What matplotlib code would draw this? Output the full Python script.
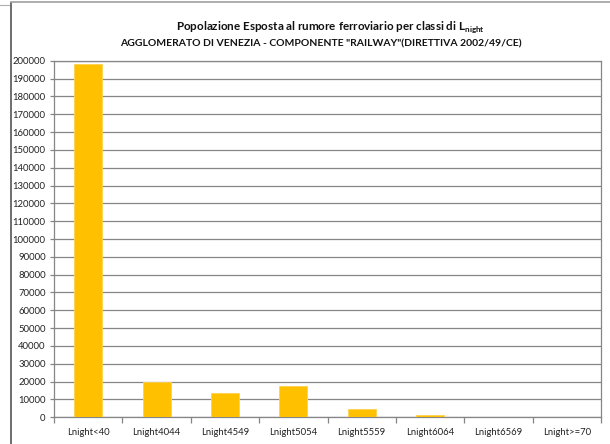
import matplotlib
matplotlib.use("Agg")
import matplotlib.pyplot as plt
from matplotlib.lines import Line2D
import numpy as np

plt.rcParams['font.family'] = ['Lato', 'DejaVu Sans']
plt.rcParams['mathtext.fontset'] = 'custom'
plt.rcParams['mathtext.rm'] = 'Lato'
plt.rcParams['mathtext.bf'] = 'Lato:bold'

# Exposed population by Lnight class
categories = ["Lnight<40", "Lnight4044", "Lnight4549", "Lnight5054",
              "Lnight5559", "Lnight6064", "Lnight6569", "Lnight>=70"]
population = [198000, 19800, 13600, 17700, 4800, 1300, 0, 0]
y_ticks = list(range(0, 200001, 10000))

title_line1 = r"Popolazione Esposta al rumore ferroviario per classi di L$_{\mathbf{night}}$"
title_line2 = 'AGGLOMERATO DI VENEZIA - COMPONENTE "RAILWAY"(DIRETTIVA 2002/49/CE)'

W, H = 610, 444
fig = plt.figure(figsize=(W / 100, H / 100), dpi=100)
ax = fig.add_axes([54 / W, (H - 417.3) / H, (601 - 54) / W, (417.3 - 60.7) / H])

grid_col = "#868686"
x = np.arange(len(categories))
ax.bar(x, population, width=0.41, color="#FFC000", edgecolor="#FFD24D",
       linewidth=0.6, zorder=3)

ax.set_xlim(-0.5, len(categories) - 0.5)
ax.set_ylim(0, 200000)
ax.set_yticks(y_ticks)
ax.set_yticklabels([str(v) for v in y_ticks], fontsize=6.8, color="#222222")
ax.yaxis.grid(True, color=grid_col, linewidth=0.9, zorder=0)
ax.set_axisbelow(True)

ax.set_xticks(x)
ax.set_xticklabels(categories, fontsize=6.8, color="#222222")
ax.set_xticks(np.arange(len(categories) + 1) - 0.5, minor=True)
ax.tick_params(axis='x', which='major', length=0, pad=8)
ax.tick_params(axis='x', which='minor', length=4.5, width=0.9, color=grid_col)
ax.tick_params(axis='y', length=3, width=0.9, color=grid_col, pad=3)

for side in ("left", "bottom", "right", "top"):
    ax.spines[side].set_color(grid_col)
    ax.spines[side].set_linewidth(0.9)

fig.text(330 / W, 1 - 27 / H, title_line1, ha="center", va="center",
         fontsize=8.4, fontweight="bold", color="#111111")
fig.text(321 / W, 1 - 43.5 / H, title_line2, ha="center", va="center",
         fontsize=7.5, fontweight="bold", color="#111111")

# outer chart frame
fig.add_artist(Line2D([10.5 / W, 10.5 / W], [0, 1 - 3 / H],
                      transform=fig.transFigure, color="#6e6e6e", linewidth=1.4))
fig.add_artist(Line2D([10.5 / W, 1], [1 - 2.5 / H, 1 - 2.5 / H],
                      transform=fig.transFigure, color="#a0a0a0", linewidth=1.2))
fig.add_artist(Line2D([0, 9 / W], [1 - 5 / H, 1 - 5 / H],
                      transform=fig.transFigure, color="#b0b0b0", linewidth=0.8))

fig.savefig("out.png", dpi=100)
